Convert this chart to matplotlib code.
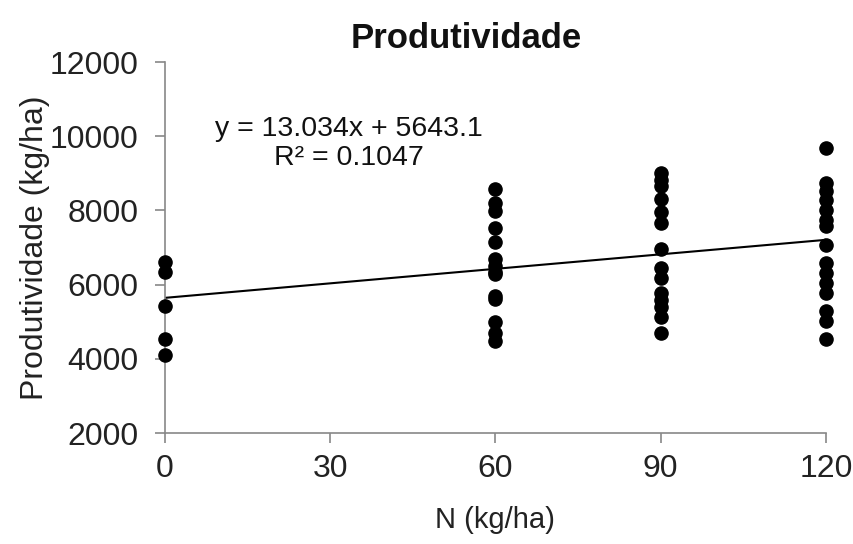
import numpy as np
import matplotlib.pyplot as plt

plt.rcParams['font.family'] = ['Liberation Sans', 'DejaVu Sans']

# N dose (kg/ha) and yield (kg/ha)
dose_0 = [6620, 6330, 5430, 4540, 4110]
dose_60 = [8580, 8200, 7980, 7530, 7140, 6690, 6490, 6350, 6290, 5700, 5620, 4980, 4690, 4490]
dose_90 = [9010, 8830, 8650, 8310, 7950, 7660, 6960, 6450, 6180, 5770, 5590, 5410, 5140, 4690]
dose_120 = [9690, 8740, 8520, 8290, 8020, 7750, 7570, 7080, 6580, 6310, 6040, 5770, 5280, 5010, 4540]
doses = [0, 60, 90, 120]

slope = 13.034
intercept = 5643.1
r2 = 0.1047

x_ticks = [0, 30, 60, 90, 120]
y_ticks = [2000, 4000, 6000, 8000, 10000, 12000]

fig = plt.figure(figsize=(8.54, 5.44), dpi=100)
ax = fig.add_axes([0.193, 0.204, 0.774, 0.682])

for d, vals in zip(doses, [dose_0, dose_60, dose_90, dose_120]):
    ax.scatter([d] * len(vals), vals, s=90, color='black', zorder=3, clip_on=False)

xs = np.array([0, 120])
ax.plot(xs, slope * xs + intercept, color='black', lw=1.5, zorder=2)

ax.set_xlim(0, 120)
ax.set_ylim(2000, 12000)
ax.set_xticks(x_ticks)
ax.set_yticks(y_ticks)

for s in ['top', 'right']:
    ax.spines[s].set_visible(False)
for s in ['left', 'bottom']:
    ax.spines[s].set_color('#888888')
    ax.spines[s].set_linewidth(1.2)
ax.tick_params(colors='#888888', labelcolor='#222222', labelsize=23, length=7, width=1.2)
ax.tick_params(axis='y', pad=12)
ax.tick_params(axis='x', pad=8)

fig.text(0.546, 0.93, 'Produtividade', fontsize=25, fontweight='bold',
         color='#111111', ha='center', va='center')
ax.set_xlabel('N (kg/ha)', fontsize=21, color='#222222', labelpad=16)
ax.set_ylabel('Produtividade (kg/ha)', fontsize=23, color='#222222', labelpad=0)

ax.text(33.4, 9800, f'y = {slope}x + {intercept}\nR² = {r2}', fontsize=20.5,
        ha='center', va='center', color='#111111', linespacing=1.15)

fig.savefig('out.png', dpi=100)
